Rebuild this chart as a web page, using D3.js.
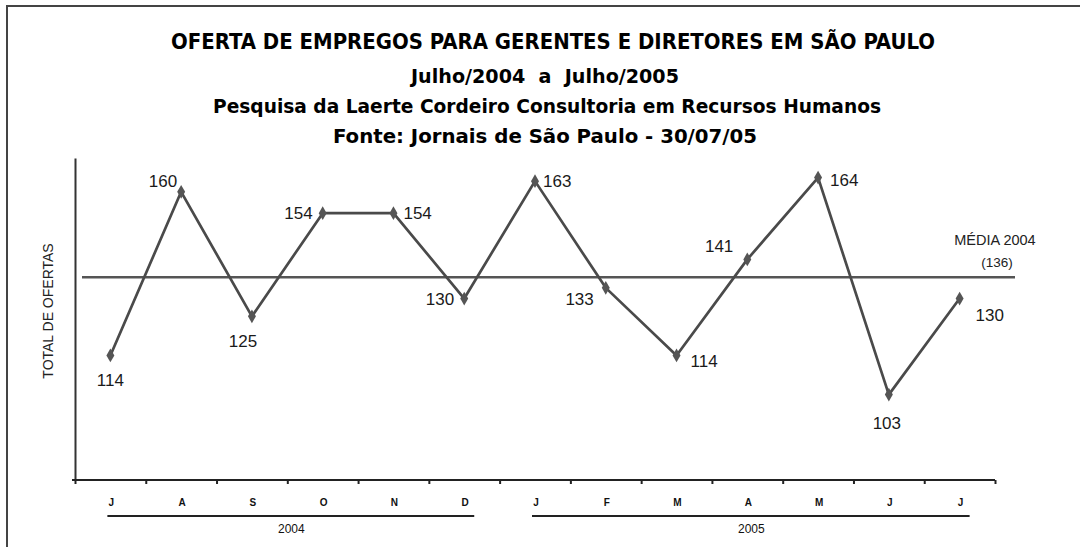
<!DOCTYPE html>
<html>
<head>
<meta charset="utf-8">
<script src="https://cdn.jsdelivr.net/npm/d3@7"></script>
<style>
  html, body { margin: 0; padding: 0; background: #fff; }
  svg { display: block; }
</style>
</head>
<body>
<div id="grafico"></div>
<script>
// Datos
const meses = ['J', 'A', 'S', 'O', 'N', 'D', 'J', 'F', 'M', 'A', 'M', 'J', 'J'];
const ofertas = [114, 160, 125, 154, 154, 130, 163, 133, 114, 141, 164, 103, 130];
const anos = [
  { nome: '2004', desde: 0, ate: 5 },
  { nome: '2005', desde: 6, ate: 12 }
];
const media2004 = 136;
const titulos = [
  'OFERTA DE EMPREGOS PARA GERENTES E DIRETORES EM SÃO PAULO',
  'Julho/2004  a  Julho/2005',
  'Pesquisa da Laerte Cordeiro Consultoria em Recursos Humanos',
  'Fonte: Jornais de São Paulo - 30/07/05'
];

// Colocación de etiquetas (desplazamiento respecto al punto)
const etiquetaDx = [0, -4, -9, -10, 10, -10, 8, -12, 14, -14, 12, -2, 16];
const etiquetaDy = [31, -5, 31, 6, 6, 6, 6, 17, 12, -7, 8, 34, 22];
const etiquetaAncla = ['middle', 'end', 'middle', 'end', 'start', 'end', 'start', 'end', 'start', 'end', 'start', 'middle', 'start'];

const width = 1080, height = 547;
const fonteTitulo = '"Liberation Sans Narrow", "Arial Narrow", "DejaVu Sans Condensed", sans-serif';
const fonteTexto = '"Liberation Sans", Arial, sans-serif';

const svg = d3.select('#grafico').append('svg')
  .attr('width', width)
  .attr('height', height);

// Moldura
svg.append('rect')
  .attr('x', 7).attr('y', 6)
  .attr('width', 1100).attr('height', 600)
  .attr('fill', 'none')
  .attr('stroke', '#444')
  .attr('stroke-width', 2);

// Títulos (ancho ajustado al original)
const baseTitulo = [49, 83, 113, 143];
const tamTitulo = [21, 20, 20, 20];
const centroTitulo = [553, 545, 547, 545];
const largoTitulo = [764, 268, 668, 424];
titulos.forEach((t, i) => {
  svg.append('text')
    .attr('x', centroTitulo[i])
    .attr('y', baseTitulo[i])
    .attr('text-anchor', 'middle')
    .attr('font-family', fonteTitulo)
    .attr('font-weight', 'bold')
    .attr('font-size', tamTitulo[i])
    .attr('textLength', largoTitulo[i])
    .attr('lengthAdjust', 'spacingAndGlyphs')
    .attr('fill', '#000')
    .style('white-space', 'pre')
    .text(t);
});

// Escalas
const x = d3.scaleBand().domain(d3.range(meses.length)).range([75, 995]);
const xBorda = d3.scaleLinear().domain([0, meses.length]).range([75, 995]);
const y = d3.scaleLinear().domain([79, 169.5]).range([480, 158]);
const cx = i => x(i) + x.bandwidth() / 2;

// Eje Y (solo la línea)
svg.append('g')
  .attr('transform', 'translate(75,0)')
  .call(d3.axisLeft(y).tickValues([]).tickSizeOuter(0))
  .call(g => g.select('.domain').attr('stroke', '#333').attr('stroke-width', 2));

svg.append('text')
  .attr('transform', 'translate(53,311) rotate(-90)')
  .attr('text-anchor', 'middle')
  .attr('font-family', fonteTexto)
  .attr('font-size', 14)
  .attr('fill', '#222')
  .text('TOTAL DE OFERTAS');

// Eje X con marcas en los bordes de cada mes
svg.append('g')
  .attr('transform', 'translate(0,480)')
  .call(d3.axisBottom(xBorda).tickValues(d3.range(meses.length + 1)).tickFormat('').tickSize(4).tickSizeOuter(0))
  .call(g => g.select('.domain').attr('stroke', '#222').attr('stroke-width', 2).attr('d', 'M72,0H995'))
  .call(g => g.selectAll('.tick line').attr('stroke', '#222').attr('stroke-width', 2));

svg.append('g').selectAll('text').data(meses).join('text')
  .attr('x', (d, i) => cx(i) + 1)
  .attr('y', 506)
  .attr('text-anchor', 'middle')
  .attr('font-family', fonteTexto)
  .attr('font-weight', 'bold')
  .attr('font-size', 10)
  .attr('fill', '#111')
  .text(d => d);

// Años
const gAnos = svg.append('g');
gAnos.selectAll('line').data(anos).join('line')
  .attr('x1', d => cx(d.desde) - 3)
  .attr('x2', d => cx(d.ate) + 10)
  .attr('y1', 516).attr('y2', 516)
  .attr('stroke', '#222')
  .attr('stroke-width', 2);
gAnos.selectAll('text').data(anos).join('text')
  .attr('x', d => (cx(d.desde) + cx(d.ate)) / 2 + 4)
  .attr('y', 533)
  .attr('text-anchor', 'middle')
  .attr('font-family', fonteTexto)
  .attr('font-size', 12)
  .attr('fill', '#111')
  .text(d => d.nome);

// Media 2004
svg.append('line')
  .attr('x1', 82).attr('x2', 1015)
  .attr('y1', y(media2004)).attr('y2', y(media2004))
  .attr('stroke', '#555')
  .attr('stroke-width', 2.5);
svg.append('text')
  .attr('x', 995).attr('y', 245)
  .attr('text-anchor', 'middle')
  .attr('font-family', fonteTexto)
  .attr('font-size', 14.5)
  .attr('fill', '#222')
  .text('MÉDIA 2004');
svg.append('text')
  .attr('x', 997).attr('y', 267)
  .attr('text-anchor', 'middle')
  .attr('font-family', fonteTexto)
  .attr('font-size', 13.5)
  .attr('fill', '#222')
  .text('(' + media2004 + ')');

// Serie
const linha = d3.line().x((d, i) => cx(i)).y(d => y(d));
svg.append('path')
  .datum(ofertas)
  .attr('d', linha)
  .attr('fill', 'none')
  .attr('stroke', '#4a4a4a')
  .attr('stroke-width', 2.7)
  .attr('stroke-linejoin', 'round');

svg.append('g').selectAll('path').data(ofertas).join('path')
  .attr('transform', (d, i) => `translate(${cx(i)},${y(d)})`)
  .attr('d', d3.symbol(d3.symbolDiamond, 55))
  .attr('fill', '#555');

svg.append('g').selectAll('text').data(ofertas).join('text')
  .attr('x', (d, i) => cx(i) + etiquetaDx[i])
  .attr('y', (d, i) => y(d) + etiquetaDy[i])
  .attr('text-anchor', (d, i) => etiquetaAncla[i])
  .attr('font-family', fonteTexto)
  .attr('font-size', 17)
  .attr('fill', '#1a1a1a')
  .text(d => d);
</script>
</body>
</html>
